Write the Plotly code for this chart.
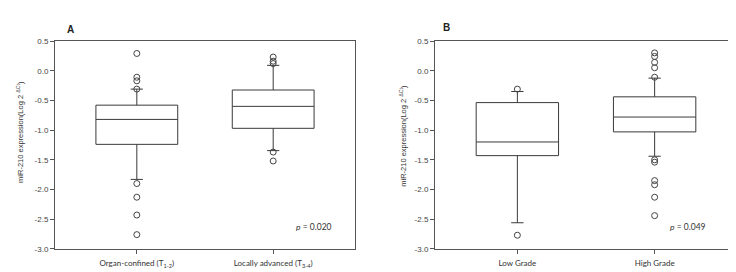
import plotly.graph_objects as go

# ---- data ----
cats_a = ["Organ-confined (T<sub>1-2</sub>)", "Locally advanced (T<sub>3-4</sub>)"]
cats_b = ["Low Grade", "High Grade"]

# box statistics: [q1, median, q3, lower whisker, upper whisker]
a_q1 = [-1.24, -0.97]
a_med = [-0.82, -0.60]
a_q3 = [-0.58, -0.325]
a_lo = [-1.83, -1.345]
a_hi = [-0.31, 0.09]
a_out = [
    [0.29, -0.11, -0.17, -0.31, -1.90, -2.13, -2.43, -2.76],
    [0.23, 0.16, 0.12, -1.37, -1.52],
]

b_q1 = [-1.43, -1.03]
b_med = [-1.20, -0.78]
b_q3 = [-0.537, -0.44]
b_lo = [-2.56, -1.44]
b_hi = [-0.35, -0.125]
b_out = [
    [-0.31, -2.77],
    [0.30, 0.24, 0.14, 0.05, -0.11, -1.50, -1.54, -1.85, -1.92, -2.13, -2.44],
]

y_ticks = [0.5, 0.0, -0.5, -1.0, -1.5, -2.0, -2.5, -3.0]
y_ticktext = ["0.5", "0.0", "-0.5", "-1.0", "-1.5", "-2.0", "-2.5", "-3.0"]
p_a = "<i>p</i> = 0.020"
p_b = "<i>p</i> = 0.049"
ytitle = "miR-210 expression(Log 2 <sup>ΔCt</sup>)"

line_col = "#3a3a3a"
fig = go.Figure()

def add_panel(xa, ya, q1, med, q3, lo, hi, outs):
    for i in range(2):
        fig.add_trace(go.Box(
            x=[i], q1=[q1[i]], median=[med[i]], q3=[q3[i]],
            lowerfence=[lo[i]], upperfence=[hi[i]],
            width=0.6, whiskerwidth=0.15,
            fillcolor="rgba(0,0,0,0)",
            line=dict(color=line_col, width=1),
            boxpoints=False, showlegend=False,
            xaxis=xa, yaxis=ya, hoverinfo="skip"))
        fig.add_trace(go.Scatter(
            x=[i] * len(outs[i]), y=outs[i], mode="markers",
            marker=dict(symbol="circle-open", size=6,
                        color="#444", line=dict(width=1, color="#444")),
            showlegend=False, xaxis=xa, yaxis=ya, hoverinfo="skip"))

add_panel("x", "y", a_q1, a_med, a_q3, a_lo, a_hi, a_out)
add_panel("x2", "y2", b_q1, b_med, b_q3, b_lo, b_hi, b_out)

ax_common = dict(showline=True, mirror=True, linecolor="#555", linewidth=1,
                 showgrid=False, zeroline=False, ticks="outside",
                 ticklen=4, tickcolor="#555")
xfont = dict(family="Lato, Open Sans, sans-serif", size=8, color="#333")
yfont = dict(family="Liberation Sans, Arial, sans-serif", size=8, color="#444")

fig.update_layout(
    width=736, height=272,
    margin=dict(l=0, r=0, t=0, b=0),
    paper_bgcolor="white", plot_bgcolor="white",
    xaxis=dict(domain=[47/736, 347/736], range=[-0.6, 1.6],
               tickvals=[0, 1], ticktext=cats_a, tickfont=xfont,
               ticklabelstandoff=3, anchor="y", **ax_common),
    yaxis=dict(domain=[1-245/272, 1-30/272], range=[-3.0, 0.5],
               tickvals=y_ticks, ticktext=y_ticktext, tickfont=yfont,
               anchor="x", **ax_common),
    xaxis2=dict(domain=[427/736, 729/736], range=[-0.6, 1.6],
                tickvals=[0, 1], ticktext=cats_b, tickfont=xfont,
                ticklabelstandoff=3, anchor="y2", **ax_common),
    yaxis2=dict(domain=[1-245/272, 1-30/272], range=[-3.0, 0.5],
                tickvals=y_ticks, ticktext=y_ticktext, tickfont=yfont,
                anchor="x2", **ax_common),
)

ann_font = dict(family="Liberation Sans, Arial, sans-serif", size=7.5, color="#333")
fig.add_annotation(text=ytitle, x=12/736, y=1-124/272, xref="paper", yref="paper",
                   textangle=-90, showarrow=False, font=ann_font,
                   xanchor="center", yanchor="middle")
fig.add_annotation(text=ytitle, x=395/736, y=1-128/272, xref="paper", yref="paper",
                   textangle=-90, showarrow=False, font=ann_font,
                   xanchor="center", yanchor="middle")
fig.add_annotation(text="<b>A</b>", x=57/736, y=1-10/272, xref="paper", yref="paper",
                   showarrow=False, font=dict(family="Liberation Sans, Arial", size=10, color="#222"))
fig.add_annotation(text="<b>B</b>", x=438/736, y=1-8/272, xref="paper", yref="paper",
                   showarrow=False, font=dict(family="Liberation Sans, Arial", size=10, color="#222"))
pfont = dict(family="Lato, Open Sans, sans-serif", size=8.5, color="#333")
fig.add_annotation(text=p_a, x=306/736, y=1-230/272, xref="paper", yref="paper",
                   showarrow=False, font=pfont)
fig.add_annotation(text=p_b, x=700/736, y=1-230/272, xref="paper", yref="paper",
                   showarrow=False, font=pfont)

fig.write_html("out.html")
